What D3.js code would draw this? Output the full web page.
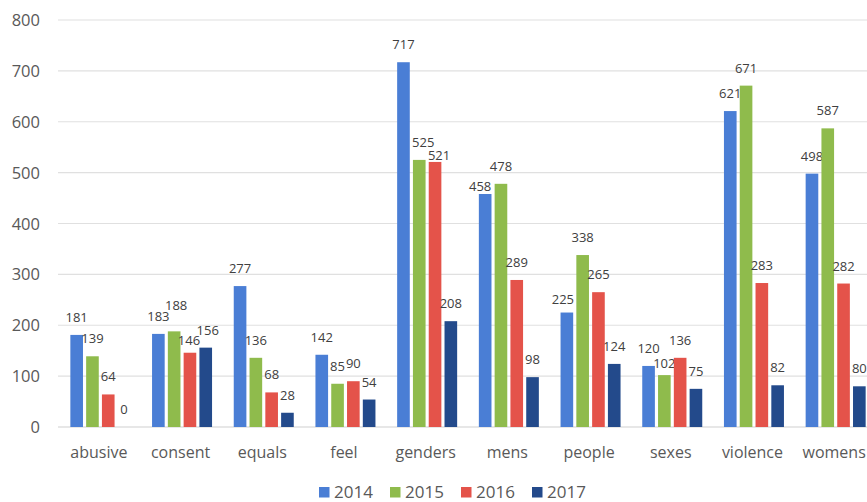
<!DOCTYPE html>
<html>
<head>
<meta charset="utf-8">
<script src="https://d3js.org/d3.v7.min.js"></script>
<style>
  body { margin: 0; background: #fff; }
  svg text { font-family: "Open Sans", "Noto Sans", sans-serif; }
</style>
</head>
<body>
<svg id="chart"></svg>
<script>
var width = 867, height = 502;

// data
var categories = ["abusive", "consent", "equals", "feel", "genders", "mens", "people", "sexes", "violence", "womens"];
var years = ["2014", "2015", "2016", "2017"];
var v2014 = [181, 183, 277, 142, 717, 458, 225, 120, 621, 498];
var v2015 = [139, 188, 136, 85, 525, 478, 338, 102, 671, 587];
var v2016 = [64, 146, 68, 90, 521, 289, 265, 136, 283, 282];
var v2017 = [0, 156, 28, 54, 208, 98, 124, 75, 82, 80];
var yTicks = [0, 100, 200, 300, 400, 500, 600, 700, 800];

var series = [v2014, v2015, v2016, v2017];
var colors = ["#4a7ed5", "#8fbb4c", "#e4534a", "#234a8b"];

// labels that got pushed aside to dodge their neighbours (dx, dy in px)
var labelNudge = {
    "consent|2015": [2, -8],
    "consent|2016": [-1, 5],
    "consent|2017": [2, 0],
    "genders|2015": [4, 0],
    "genders|2016": [4, 11],
    "mens|2014": [-5, 10],
    "people|2014": [-4, 4],
    "sexes|2015": [0, 6]
};

var svg = d3.select("#chart")
    .attr("width", width)
    .attr("height", height);

var x = d3.scaleBand()
    .domain(categories)
    .range([58, 875]);

// inner band for the four years, centred in each category
var groupW = 60;
var x1 = d3.scaleBand()
    .domain(years)
    .range([(x.bandwidth() - groupW) / 2 + 1.5, (x.bandwidth() + groupW) / 2 + 1.5])
    .paddingInner(0.2);

var y = d3.scaleLinear()
    .domain([0, 800])
    .range([427, 20]);

// gridlines
svg.append("g")
    .selectAll("line")
    .data(yTicks)
    .enter().append("line")
    .attr("x1", 58)
    .attr("x2", width)
    .attr("y1", d => y(d))
    .attr("y2", d => y(d))
    .attr("stroke", d => d == 0 ? "#d0d0d0" : "#e0e0e0")
    .attr("stroke-width", 1.2);

// y tick labels
svg.append("g")
    .selectAll("text")
    .data(yTicks)
    .enter().append("text")
    .attr("x", 40)
    .attr("y", d => y(d) + 6)
    .attr("text-anchor", "end")
    .attr("font-size", 16.5)
    .attr("fill", "#595959")
    .text(d => d);

// bars + value labels
series.forEach((vals, s) => {
    var g = svg.append("g");
    g.selectAll("rect")
        .data(vals)
        .enter().append("rect")
        .attr("x", (d, i) => x(categories[i]) + x1(years[s]))
        .attr("y", d => y(d))
        .attr("width", x1.bandwidth())
        .attr("height", d => y(0) - y(d))
        .attr("fill", colors[s]);

    var nudge = i => labelNudge[categories[i] + "|" + years[s]] || [0, 0];

    g.selectAll("text")
        .data(vals)
        .enter().append("text")
        .attr("x", (d, i) => x(categories[i]) + x1(years[s]) + x1.bandwidth() / 2 + nudge(i)[0])
        .attr("y", (d, i) => y(d) - 13 + nudge(i)[1])
        .attr("text-anchor", "middle")
        .attr("font-size", 13)
        .attr("fill", "#404040")
        .text(d => d);
});

// category labels
svg.append("g")
    .selectAll("text")
    .data(categories)
    .enter().append("text")
    .attr("x", d => x(d) + x.bandwidth() / 2)
    .attr("y", 458)
    .attr("text-anchor", "middle")
    .attr("font-size", 16)
    .attr("fill", "#595959")
    .text(d => d);

// legend
var legend = svg.append("g")
    .selectAll("g")
    .data(years)
    .enter().append("g")
    .attr("transform", (d, i) => "translate(" + (319 + i * 71) + ",487)");

legend.append("rect")
    .attr("width", 10.5)
    .attr("height", 10.5)
    .attr("fill", (d, i) => colors[i]);

legend.append("text")
    .attr("x", 15)
    .attr("y", 11)
    .attr("font-size", 17)
    .attr("fill", "#595959")
    .text(d => d);
</script>
</body>
</html>
